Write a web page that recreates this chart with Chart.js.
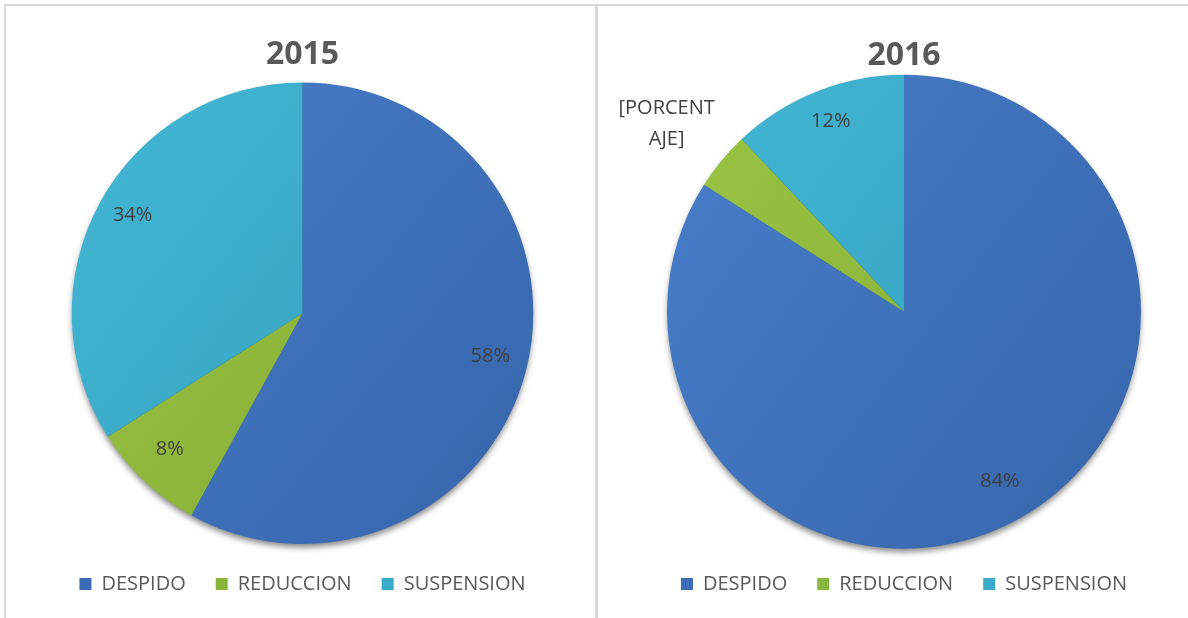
<!DOCTYPE html>
<html lang="es">
<head>
  <meta charset="UTF-8" />
  <title>Despido / Reduccion / Suspension 2015-2016</title>
  <script src="https://cdn.jsdelivr.net/npm/chart.js@4.4.1/dist/chart.umd.min.js"></script>
  <style>
    body{margin:0;background:#fff;font-family:"Open Sans",sans-serif;overflow:hidden;}
    #wrap{position:absolute;left:4px;top:4px;width:1230px;height:614px;}
    .panel{position:absolute;top:0;height:614px;border-top:2px solid #d9d9d9;box-sizing:border-box;}
    #p1{left:0;width:591px;border-left:2px solid #d9d9d9;}
    #p2{left:591px;width:615px;border-left:3px solid #d9d9d9;}
    canvas{display:block;}
  </style>
</head>
<body>
  <div id="wrap">
    <div class="panel" id="p1"><canvas id="c2015" width="589" height="612"></canvas></div>
    <div class="panel" id="p2"><canvas id="c2016" width="612" height="612"></canvas></div>
  </div>

  <script>
    const categories = ['DESPIDO', 'REDUCCION', 'SUSPENSION'];
    const values2015 = [58, 8, 34];
    const values2016 = [84, 4, 12];
    const labels2015 = [['58%'], ['8%'], ['34%']];
    const labels2016 = [['84%'], ['[PORCENT', 'AJE]'], ['12%']];
    const outside2016 = [false, true, false];
    const outside2015 = [false, false, false];

    // light / dark tones per slice for the gradient fill
    const TONES = [
      ['#4a80cc', '#3563a8'],
      ['#9cc844', '#7fa533'],
      ['#45b8d6', '#2f9bb8']
    ];
    const LEGEND_COL = ['#3a6db7', '#8ab73b', '#39a9c8'];

    function sliceFill(ctx){
      const chart = ctx.chart, a = chart.chartArea;
      if(!a) return LEGEND_COL[ctx.dataIndex];
      const t = TONES[ctx.dataIndex];
      const g = chart.ctx.createLinearGradient(a.left, a.top, a.right, a.bottom);
      g.addColorStop(0, t[0]);
      g.addColorStop(1, t[1]);
      return g;
    }

    // soft drop shadow under the whole pie, taken from the first arc
    const pieShadow = {
      id:'pieShadow',
      beforeDatasetsDraw(chart){
        const arc = chart.getDatasetMeta(0).data[0];
        if(!arc) return;
        const p = arc.getProps(['x','y','outerRadius'], true);
        const c = chart.ctx;
        c.save();
        c.shadowColor = 'rgba(0,0,0,0.5)';
        c.shadowBlur = 6;
        c.shadowOffsetY = 4;
        c.fillStyle = '#2c4f86';
        c.beginPath();
        c.arc(p.x, p.y, p.outerRadius - 1, 0, Math.PI * 2);
        c.fill();
        c.restore();
      }
    };

    // draws the percentage labels from each arc's own geometry
    const sliceLabels = {
      id:'sliceLabels',
      afterDatasetsDraw(chart, args, opts){
        const c = chart.ctx;
        const meta = chart.getDatasetMeta(0);
        c.save();
        c.font = '20px "Open Sans", sans-serif';
        c.fillStyle = '#404040';
        c.textAlign = 'center';
        c.textBaseline = 'middle';
        meta.data.forEach((arc, i) => {
          const p = arc.getProps(['x','y','startAngle','endAngle','outerRadius'], true);
          const mid = (p.startAngle + p.endAngle) / 2;
          const out = opts.outside[i];
          const f = out ? 1.3 : 0.84;
          const x = p.x + Math.cos(mid) * p.outerRadius * f;
          const y = p.y + Math.sin(mid) * p.outerRadius * f + (out ? 8 : -5);
          const lines = opts.text[i];
          const lh = 31;
          lines.forEach((s, k) => {
            c.fillText(s, x, y + (k - (lines.length - 1) / 2) * lh);
          });
        });
        c.restore();
      }
    };

    function makePie(id, title, values, text, outside, pad, titlePad, radius){
      return new Chart(document.getElementById(id), {
        type:'pie',
        data:{
          labels:categories,
          datasets:[{
            data:values,
            backgroundColor:sliceFill,
            borderWidth:0
          }]
        },
        options:{
          responsive:false,
          animation:false,
          radius:radius,
          layout:{padding:pad},
          plugins:{
            title:{
              display:true,
              text:title,
              color:'#595959',
              font:{family:'"Open Sans", sans-serif', size:32, weight:'bold'},
              padding:titlePad
            },
            legend:{
              position:'bottom',
              labels:{
                color:'#595959',
                font:{family:'"Open Sans", sans-serif', size:20},
                boxWidth:12, boxHeight:12,
                padding:30,
                generateLabels(chart){
                  return categories.map((c, i) => ({
                    text:c, fillStyle:LEGEND_COL[i], strokeStyle:LEGEND_COL[i],
                    lineWidth:0, hidden:false, index:i, fontColor:'#595959'
                  }));
                }
              }
            },
            tooltip:{enabled:false},
            sliceLabels:{text:text, outside:outside}
          }
        },
        plugins:[pieShadow, sliceLabels]
      });
    }

    makePie('c2015', '2015', values2015, labels2015, outside2015,
            {top:0, bottom:14, left:14, right:10}, {top:30, bottom:8}, '100%');
    makePie('c2016', '2016', values2016, labels2016, outside2016,
            {top:0, bottom:14, left:0, right:0}, {top:31, bottom:4}, '102%');
  </script>
</body>
</html>
